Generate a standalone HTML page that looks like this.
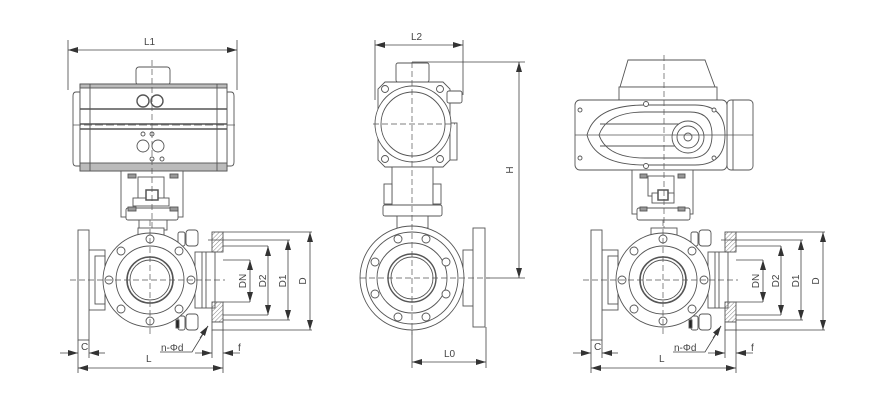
<!DOCTYPE html>
<html><head><meta charset="utf-8"><style>
html,body{margin:0;padding:0;background:#fff;}
svg{display:block;}
text{font-family:"Liberation Sans",sans-serif;font-size:10px;fill:#444;}
</style></head><body>
<svg width="887" height="410" viewBox="0 0 887 410" xmlns="http://www.w3.org/2000/svg">
<defs>
<marker id="a" viewBox="0 0 10 6" refX="10" refY="3" markerWidth="10" markerHeight="6" orient="auto-start-reverse" markerUnits="userSpaceOnUse"><path d="M0,0L10,3L0,6z" fill="#333"/></marker>
<pattern id="h" width="3" height="3" patternUnits="userSpaceOnUse" patternTransform="rotate(45)"><line x1="0" y1="0" x2="0" y2="3" stroke="#666" stroke-width="0.8"/></pattern>
<g id="body" fill="#fff" stroke="#555" stroke-width="0.9">
  <!-- left flange + neck -->
  <rect x="-61" y="-30" width="16" height="60"/>
  <rect x="-55" y="-24" width="10" height="48" fill="none"/>
  <rect x="-72" y="-50" width="11" height="110"/>
  <!-- top neck -->
  <rect x="-12" y="-52" width="26" height="8"/>
  <!-- right connection -->
  <rect x="45" y="-28" width="20" height="56"/>
  <line x1="52" y1="-28" x2="52" y2="28"/>
  <line x1="56" y1="-28" x2="56" y2="28"/>
  <rect x="62" y="-48" width="11" height="20" fill="url(#h)"/>
  <rect x="62" y="22" width="11" height="20" fill="url(#h)"/>
  <rect x="62" y="42" width="11" height="8"/>
  <!-- bolts -->
  <rect x="28" y="-48" width="7" height="14" rx="2"/>
  <rect x="36" y="-50" width="12" height="16" rx="3"/>
  <rect x="28" y="36" width="7" height="14" rx="2"/>
  <rect x="36" y="34" width="12" height="16" rx="3"/>
  <rect x="26" y="40" width="3" height="8" fill="#222"/>
  <!-- main circle -->
  <circle r="47"/>
  <circle r="34" fill="none"/>
  <circle r="23" fill="none" stroke-width="1.6"/>
  <circle r="20" fill="none"/>
  <circle cx="0" cy="-41" r="4"/><circle cx="29" cy="-29" r="4"/><circle cx="41" cy="0" r="4"/><circle cx="29" cy="29" r="4"/>
  <circle cx="0" cy="41" r="4"/><circle cx="-29" cy="29" r="4"/><circle cx="-41" cy="0" r="4"/><circle cx="-29" cy="-29" r="4"/>
  <line x1="-80" y1="0" x2="75" y2="0" stroke-dasharray="6,3" stroke-width="0.7"/>
  <line x1="0" y1="-60" x2="0" y2="55" stroke-dasharray="6,3" stroke-width="0.7"/>
</g>
<g id="dims" stroke="#444" stroke-width="0.8" fill="none">
  <line x1="73" y1="-48" x2="162" y2="-48"/>
  <line x1="73" y1="50" x2="162" y2="50"/>
  <line x1="58" y1="-40" x2="140" y2="-40"/>
  <line x1="73" y1="40" x2="140" y2="40"/>
  <line x1="73" y1="-34" x2="118" y2="-34"/>
  <line x1="73" y1="35" x2="118" y2="35"/>
  <line x1="73" y1="-20" x2="100" y2="-20"/>
  <line x1="73" y1="22" x2="100" y2="22"/>
  <line x1="160" y1="-48" x2="160" y2="50" marker-start="url(#a)" marker-end="url(#a)"/>
  <line x1="138" y1="-40" x2="138" y2="40" marker-start="url(#a)" marker-end="url(#a)"/>
  <line x1="118" y1="-34" x2="118" y2="35" marker-start="url(#a)" marker-end="url(#a)"/>
  <line x1="100" y1="-20" x2="100" y2="22" marker-start="url(#a)" marker-end="url(#a)"/>
  <!-- bottom -->
  <line x1="-72" y1="60" x2="-72" y2="93"/>
  <line x1="-61" y1="60" x2="-61" y2="78"/>
  <line x1="73" y1="50" x2="73" y2="93"/>
  <line x1="62" y1="50" x2="62" y2="78"/>
  <line x1="-90" y1="73" x2="-72" y2="73" marker-end="url(#a)"/>
  <line x1="-45" y1="73" x2="-61" y2="73" marker-end="url(#a)"/>
  <line x1="45" y1="73" x2="62" y2="73" marker-end="url(#a)"/>
  <line x1="90" y1="73" x2="73" y2="73" marker-end="url(#a)"/>
  <line x1="-72" y1="88" x2="73" y2="88" marker-start="url(#a)" marker-end="url(#a)"/>
  <polyline points="10,72 42,72 58,46"/>
  <line x1="50" y1="58" x2="58" y2="46" marker-end="url(#a)"/>
</g>
</defs>

<!-- ===== LEFT VIEW ===== -->
<g stroke="#444" stroke-width="0.8" fill="none">
  <line x1="68" y1="40" x2="68" y2="90"/>
  <line x1="237" y1="40" x2="237" y2="90"/>
  <line x1="68" y1="50" x2="237" y2="50" marker-start="url(#a)" marker-end="url(#a)"/>
</g>
<text x="144" y="45">L1</text>
<g fill="#fff" stroke="#555" stroke-width="0.9">
  <rect x="136" y="67" width="34" height="18" rx="3"/>
  <path d="M80,92 h-4 q-3,0 -3,4 v66 q0,4 3,4 h4z"/>
  <path d="M227,92 h4 q3,0 3,4 v66 q0,4 -3,4 h-4z"/>
  <rect x="80" y="84" width="147" height="87"/>
  <rect x="80" y="84" width="147" height="4" fill="#bbb"/>
  <rect x="80" y="163" width="147" height="8" fill="#bbb"/>
  <line x1="90" y1="84" x2="90" y2="171"/><line x1="217" y1="84" x2="217" y2="171"/>
  <line x1="80" y1="109" x2="227" y2="109" stroke-width="1.6"/>
  <line x1="80" y1="124" x2="227" y2="124" stroke-width="1.4"/>
  <line x1="80" y1="129" x2="227" y2="129" stroke-width="1.4"/>
  <circle cx="143" cy="101" r="6" stroke-width="1.4"/><circle cx="157" cy="101" r="6" stroke-width="1.4"/>
  <circle cx="143" cy="146" r="6"/><circle cx="158" cy="146" r="6"/>
  <circle cx="143" cy="134" r="2"/><circle cx="152" cy="134" r="2"/><circle cx="152" cy="159" r="2"/><circle cx="162" cy="159" r="2"/>
  <rect x="121" y="171" width="62" height="46"/>
  <rect x="138" y="177" width="26" height="22"/>
  <rect x="133" y="198" width="36" height="8"/>
  <rect x="146" y="190" width="12" height="10" stroke-width="1.5"/>
  <rect x="126" y="208" width="52" height="12" rx="2"/>
  <rect x="128" y="174" width="8" height="4" fill="#999"/><rect x="170" y="174" width="8" height="4" fill="#999"/>
  <rect x="128" y="207" width="8" height="4" fill="#999"/><rect x="170" y="207" width="8" height="4" fill="#999"/>
  <rect x="139" y="220" width="28" height="10"/>
  <line x1="73" y1="125" x2="237" y2="125" stroke-dasharray="8,3" stroke-width="0.7"/>
  <line x1="152" y1="60" x2="152" y2="230" stroke-dasharray="6,3" stroke-width="0.7"/>
</g>
<use href="#body" x="150" y="280"/>
<use href="#dims" x="150" y="280"/>
<text transform="translate(246,281) rotate(-90)" text-anchor="middle">DN</text>
<text transform="translate(266,281) rotate(-90)" text-anchor="middle">D2</text>
<text transform="translate(286,281) rotate(-90)" text-anchor="middle">D1</text>
<text transform="translate(306,281) rotate(-90)" text-anchor="middle">D</text>
<text x="81" y="350">C</text>
<text x="146" y="362">L</text>
<text x="238" y="351">f</text>
<text x="161" y="351">n-Φd</text>

<!-- ===== MIDDLE VIEW ===== -->
<g stroke="#444" stroke-width="0.8" fill="none">
  <line x1="375" y1="40" x2="375" y2="100"/>
  <line x1="463" y1="40" x2="463" y2="95"/>
  <line x1="375" y1="45" x2="463" y2="45" marker-start="url(#a)" marker-end="url(#a)"/>
  <line x1="412" y1="62" x2="525" y2="62"/>
  <line x1="486" y1="278" x2="525" y2="278"/>
  <line x1="519" y1="62" x2="519" y2="278" marker-start="url(#a)" marker-end="url(#a)"/>
  <line x1="412" y1="330" x2="412" y2="368"/>
  <line x1="486" y1="327" x2="486" y2="368"/>
  <line x1="412" y1="362" x2="486" y2="362" marker-start="url(#a)" marker-end="url(#a)"/>
</g>
<text x="411" y="40">L2</text>
<text transform="translate(513,170) rotate(-90)" text-anchor="middle">H</text>
<text x="444" y="357">L0</text>
<g fill="#fff" stroke="#555" stroke-width="0.9">
  <rect x="396" y="63" width="33" height="19" rx="2"/>
  <path d="M385,82 h58 l7,7 v71 l-7,7 h-58 l-7,-7 v-71z"/>
  <rect x="450" y="123" width="7" height="37"/>
  <rect x="447" y="91" width="15" height="12" rx="2"/>
  <circle cx="413" cy="124" r="38"/>
  <circle cx="413" cy="124" r="32"/>
  <circle cx="385" cy="89" r="3.5"/><circle cx="440" cy="89" r="3.5"/><circle cx="385" cy="159" r="3.5"/><circle cx="440" cy="159" r="3.5"/>
  <rect x="392" y="167" width="41" height="38"/>
  <rect x="384" y="184" width="8" height="20"/><rect x="433" y="184" width="8" height="20"/>
  <rect x="383" y="205" width="59" height="11" rx="2"/>
  <rect x="397" y="216" width="31" height="12"/>
  <rect x="463" y="250" width="11" height="56"/>
  <rect x="473" y="228" width="12" height="99"/>
  <circle cx="412" cy="278" r="52"/>
  <circle cx="412" cy="278" r="46"/>
  <circle cx="412" cy="278" r="35"/>
  <circle cx="412" cy="278" r="24" stroke-width="1.4"/>
  <circle cx="412" cy="278" r="21"/>
  <circle cx="398" cy="239" r="4"/><circle cx="426" cy="239" r="4"/><circle cx="446" cy="262" r="4"/><circle cx="446" cy="294" r="4"/>
  <circle cx="426" cy="317" r="4"/><circle cx="398" cy="317" r="4"/><circle cx="375" cy="294" r="4"/><circle cx="375" cy="262" r="4"/>
  <line x1="360" y1="278" x2="490" y2="278" stroke-dasharray="6,3" stroke-width="0.7"/>
  <line x1="412" y1="62" x2="412" y2="335" stroke-dasharray="6,3" stroke-width="0.7"/>
  <line x1="373" y1="124" x2="455" y2="124" stroke-dasharray="6,3" stroke-width="0.7"/>
</g>

<!-- ===== RIGHT VIEW ===== -->
<g fill="#fff" stroke="#555" stroke-width="0.9">
  <path d="M628,60 h77 l10,27 h-95z"/>
  <rect x="619" y="87" width="98" height="13"/>
  <rect x="727" y="100" width="26" height="70" rx="4"/>
  <line x1="733" y1="100" x2="733" y2="170"/>
  <rect x="575" y="100" width="152" height="70" rx="5"/>
  <path d="M645,105 h50 q30,0 30,30 q0,30 -30,30 h-50 q-50,0 -58,-30 q8,-30 58,-30z"/>
  <path d="M645,112 h45 q22,0 22,23 q0,23 -22,23 h-45 q-38,0 -46,-23 q8,-23 46,-23z"/>
  <line x1="600" y1="124" x2="690" y2="124"/><line x1="600" y1="146" x2="690" y2="146"/>
  <circle cx="688" cy="137" r="16"/><circle cx="688" cy="137" r="11"/><circle cx="688" cy="137" r="4"/>
  <circle cx="646" cy="104" r="2.5"/><circle cx="646" cy="166" r="2.5"/>
  <circle cx="580" cy="110" r="2"/><circle cx="580" cy="158" r="2"/><circle cx="714" cy="110" r="2"/><circle cx="714" cy="158" r="2"/>
  <line x1="575" y1="135" x2="753" y2="135" stroke-width="0.7"/>
  <rect x="632" y="170" width="61" height="44"/>
  <rect x="648" y="176" width="26" height="20"/>
  <rect x="652" y="193" width="22" height="10"/>
  <rect x="658" y="190" width="10" height="10" stroke-width="1.5"/>
  <rect x="637" y="208" width="53" height="12" rx="2"/>
  <rect x="640" y="174" width="7" height="4" fill="#999"/><rect x="678" y="174" width="7" height="4" fill="#999"/>
  <rect x="640" y="207" width="7" height="4" fill="#999"/><rect x="678" y="207" width="7" height="4" fill="#999"/>
  <line x1="664" y1="55" x2="664" y2="230" stroke-dasharray="6,3" stroke-width="0.7"/>
</g>
<use href="#body" x="663" y="280"/>
<use href="#dims" x="663" y="280"/>
<text transform="translate(759,281) rotate(-90)" text-anchor="middle">DN</text>
<text transform="translate(779,281) rotate(-90)" text-anchor="middle">D2</text>
<text transform="translate(799,281) rotate(-90)" text-anchor="middle">D1</text>
<text transform="translate(819,281) rotate(-90)" text-anchor="middle">D</text>
<text x="594" y="350">C</text>
<text x="659" y="362">L</text>
<text x="751" y="351">f</text>
<text x="674" y="351">n-Φd</text>
</svg>
</body></html>
